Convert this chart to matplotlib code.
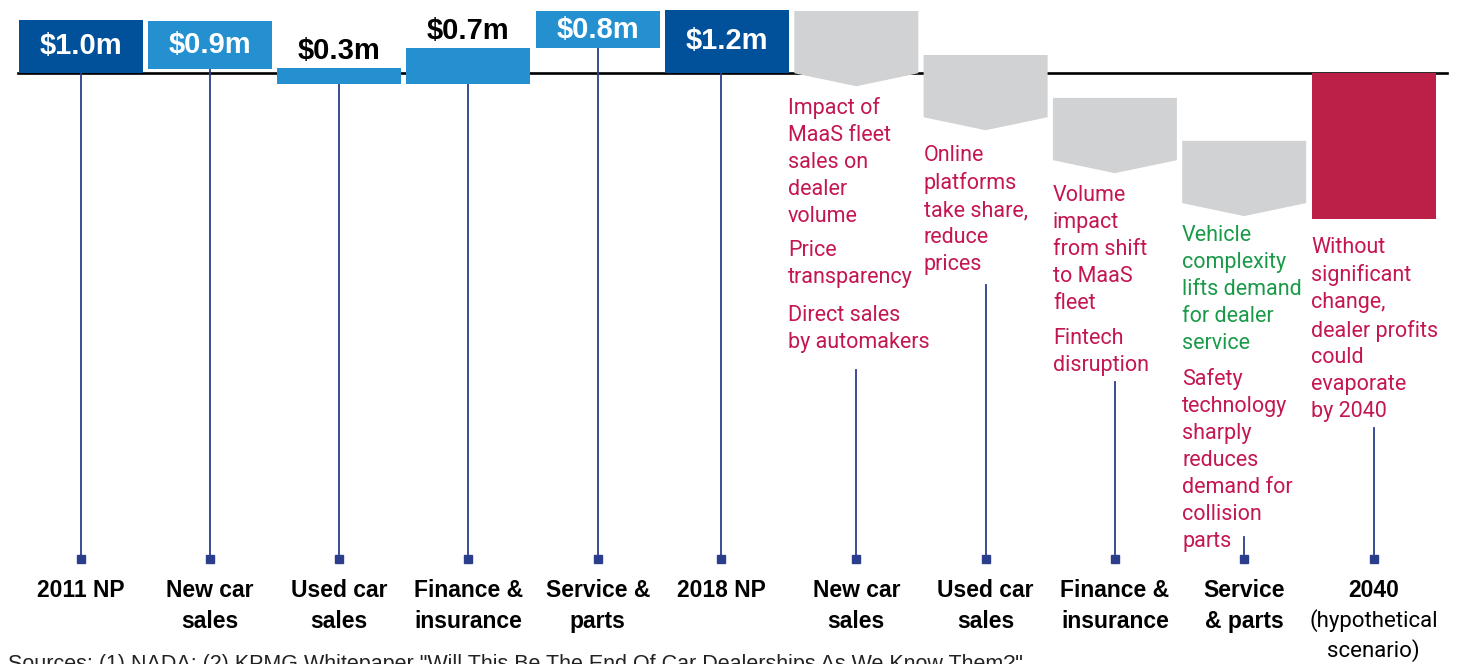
import numpy as np
import matplotlib.pyplot as plt
from matplotlib.patches import Polygon

# values, in $m (1.0m ~ 53 px)
categories = ["2011 NP", "New car\nsales", "Used car\nsales", "Finance &\ninsurance",
              "Service &\nparts", "2018 NP", "New car\nsales", "Used car\nsales",
              "Finance &\ninsurance", "Service\n& parts", "2040"]
bar_labels = ["$1.0m", "$0.9m", "$0.3m", "$0.7m", "$0.8m", "$1.2m"]
bar_heights = [1.0, 0.9, 0.3, 0.68, 0.70, 1.19]
bar_bottoms = [0.0, 0.075, -0.21, -0.21, 0.47, 0.0]
bar_dark = [True, False, False, False, False, True]
label_inside = [True, True, False, False, True, True]

chev_tops = [1.17, 0.34, -0.47, -1.28]
chev_len = [1.42, 1.42, 1.42, 1.42]
end_value = -2.75

stem_tops = [0.0, 0.075, -0.21, -0.21, 0.47, 0.0, -5.6, -4.0, -5.83, -8.75, -6.7]
stem_bottom = -9.17

notes = [
    (6, 97, "Impact of\nMaaS fleet\nsales on\ndealer\nvolume", "red"),
    (6, 240, "Price\ntransparency", "red"),
    (6, 305, "Direct sales\nby automakers", "red"),
    (7, 145, "Online\nplatforms\ntake share,\nreduce\nprices", "red"),
    (8, 185, "Volume\nimpact\nfrom shift\nto MaaS\nfleet", "red"),
    (8, 328, "Fintech\ndisruption", "red"),
    (9, 225, "Vehicle\ncomplexity\nlifts demand\nfor dealer\nservice", "green"),
    (9, 368, "Safety\ntechnology\nsharply\nreduces\ndemand for\ncollision\nparts", "red"),
    (10, 237, "Without\nsignificant\nchange,\ndealer profits\ncould\nevaporate\nby 2040", "red"),
]

DARK = "#01509a"
LIGHT = "#2490d0"
GREY = "#d1d2d4"
RED = "#bc2049"
TXT_RED = "#c4174f"
TXT_GREEN = "#1a9a48"
STEM = "#2b3e8c"

PX = 53.0        # pixels per $1m
SP = 129.3       # pixels between categories
W, H = 1460, 664
BASE_PX = 73


def py(p):
    # pixel row -> y value
    return (BASE_PX - p) / PX


fig = plt.figure(figsize=(14.6, 6.64), dpi=100)
ax = fig.add_axes([0, 0, 1, 1])
x0 = -80.5 / SP
ax.set_xlim(x0, x0 + W / SP)
ax.set_ylim(py(H), py(0))
ax.axis("off")

x = np.arange(len(categories))
bw = 124 / SP
# the 2018 stem and label sit a little left of the bar centre
stem_x = x - np.where(x == 5, 0.045, 0)

# baseline
ax.axhline(0, xmin=18 / W, xmax=1447 / W, color="black", lw=1.9, zorder=1)

# stems with square ends
for i, top in enumerate(stem_tops):
    ax.plot([stem_x[i], stem_x[i]], [top, stem_bottom], color=STEM, lw=1.3, zorder=2)
    ax.plot(stem_x[i], stem_bottom, marker="s", ms=5.6, color=STEM, zorder=3)

# historic bars
for i in range(len(bar_labels)):
    col = DARK if bar_dark[i] else LIGHT
    ax.bar(x[i], bar_heights[i], bottom=bar_bottoms[i], width=bw, color=col, zorder=4)
    if label_inside[i]:
        ax.text(x[i], bar_bottoms[i] + bar_heights[i] / 2, bar_labels[i], ha="center",
                va="center", color="white", fontsize=21, fontweight="bold",
                family="Liberation Sans", zorder=5)
    else:
        ax.annotate(bar_labels[i], (x[i], bar_bottoms[i] + bar_heights[i]),
                    xytext=(0, 12.5), textcoords="offset points", ha="center",
                    va="center", color="black", fontsize=21, fontweight="bold",
                    family="Liberation Sans", zorder=5)

# grey chevrons for future impacts
tip = 0.245
for k, (top, ln) in enumerate(zip(chev_tops, chev_len)):
    cx = x[6 + k]
    l, r = cx - bw / 2, cx + bw / 2
    pts = [(l, top), (r, top), (r, top - ln + tip), (cx, top - ln), (l, top - ln + tip)]
    ax.add_patch(Polygon(pts, closed=True, facecolor=GREY, edgecolor="none", zorder=4))

# 2040 bar
ax.bar(x[10], end_value, bottom=0, width=bw, color=RED, zorder=4)

# notes
for i, top_px, txt, c in notes:
    dx = 0.53 if i == 6 else 0.48
    ax.text(x[i] - dx, py(top_px), txt, ha="left", va="top",
            color=TXT_RED if c == "red" else TXT_GREEN, fontsize=15.5,
            linespacing=1.37, family="Roboto", zorder=5)

# category labels
for i, lab in enumerate(categories):
    ax.text(stem_x[i], py(579), lab, ha="center", va="top", fontsize=16.5,
            fontweight="bold", family="Liberation Sans", linespacing=1.45)
ax.text(x[10], py(609), "(hypothetical\nscenario)", ha="center", va="top",
        fontsize=16, family="Roboto", linespacing=1.39)

# source line, cut by the bottom edge as in the original
ax.text(8 / SP + x0, py(654), 'Sources: (1) NADA; (2) KPMG Whitepaper "Will This Be The End Of '
        'Car Dealerships As We Know Them?"', ha="left", va="top", fontsize=15.5,
        family="Liberation Sans", color="#222222")

fig.savefig("out.png", dpi=100)
